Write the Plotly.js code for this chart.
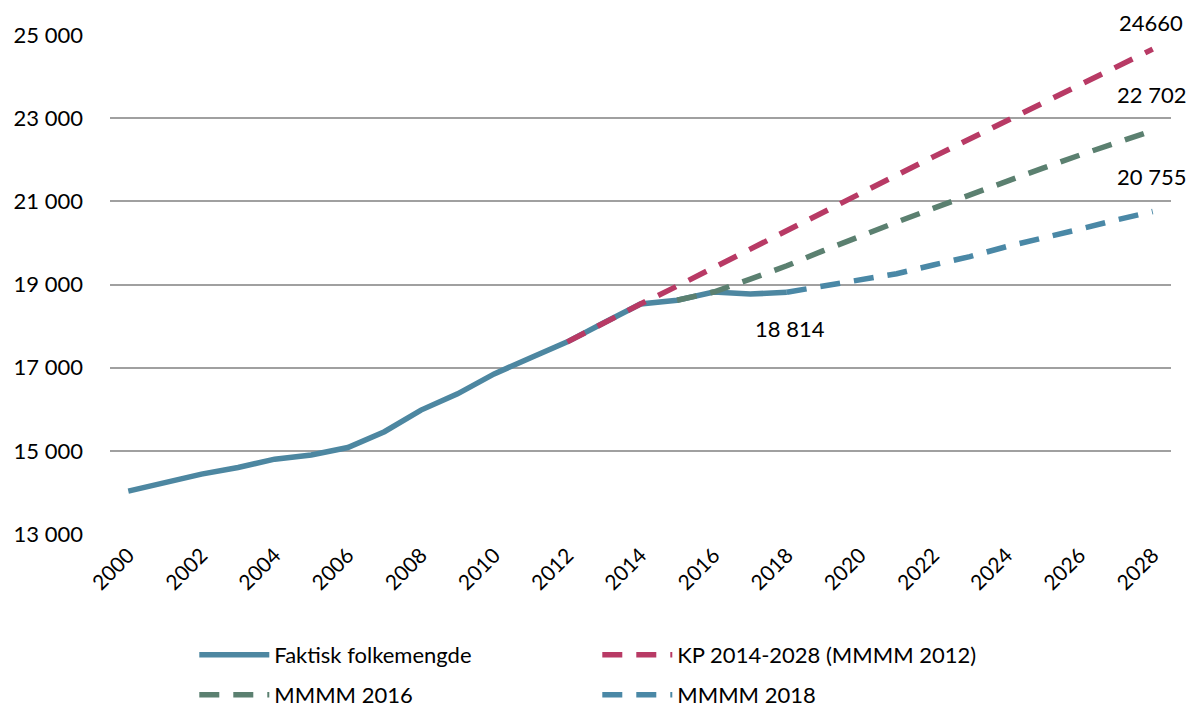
<!DOCTYPE html>
<html>
<head>
<meta charset="utf-8">
<script src="https://cdn.plot.ly/plotly-3.0.1.min.js"></script>
<style>html,body{margin:0;padding:0;background:#fff}#chart{width:1192px;height:711px}</style>
</head>
<body>
<div id="chart"></div>
<script>
const years = ['2000','2001','2002','2003','2004','2005','2006','2007','2008','2009','2010','2011','2012','2013','2014','2015','2016','2017','2018','2019','2020','2021','2022','2023','2024','2025','2026','2027','2028'];
const tickYears = ['2000','2002','2004','2006','2008','2010','2012','2014','2016','2018','2020','2022','2024','2026','2028'];

const faktiskYears = years.slice(0, 19);
const faktisk = [14030, 14230, 14440, 14600, 14800, 14900, 15080, 15460, 15980, 16370, 16850, 17240, 17620, 18080, 18530, 18620, 18820, 18770, 18814];

const kpYears = years.slice(12);
const kp = [17620, 18080, 18530, 18960, 19410, 19850, 20300, 20750, 21190, 21630, 22070, 22500, 22930, 23360, 23800, 24230, 24660];

const m2016Years = years.slice(15);
const m2016 = [18620, 18820, 19130, 19450, 19815, 20170, 20500, 20830, 21160, 21490, 21800, 22110, 22400, 22702];

const m2018Years = years.slice(18);
const m2018 = [18814, 18960, 19100, 19260, 19470, 19670, 19910, 20110, 20330, 20550, 20755];

const labels = [
  {year: '2028', y: 24660, text: '24660', xs: -2, ys: 27},
  {year: '2028', y: 22702, text: '22 702', xs: -1, ys: 36},
  {year: '2028', y: 20755, text: '20 755', xs: -1, ys: 35},
  {year: '2018', y: 18814, text: '18 814', xs: 3, ys: -36}
];

const font = 'Lato, "Open Sans", sans-serif';
const dash = '20px,14px';

const traces = [
  {x: faktiskYears, y: faktisk, name: 'Faktisk folkemengde', type: 'scatter', mode: 'lines',
   line: {color: '#4d87a1', width: 5.5}, legend: 'legend'},
  {x: kpYears, y: kp, name: 'KP 2014-2028 (MMMM 2012)', type: 'scatter', mode: 'lines',
   line: {color: '#b83a65', width: 5.5, dash: dash}, legend: 'legend'},
  {x: m2016Years, y: m2016, name: 'MMMM 2016', type: 'scatter', mode: 'lines',
   line: {color: '#5b8070', width: 5.5, dash: dash}, legend: 'legend2'},
  {x: m2018Years, y: m2018, name: 'MMMM 2018', type: 'scatter', mode: 'lines',
   line: {color: '#4a88a6', width: 5.5, dash: dash}, legend: 'legend2'}
];

const legendCommon = {
  orientation: 'h', xref: 'container', yref: 'container', x: 0.163, xanchor: 'left', yanchor: 'middle',
  entrywidth: 318, entrywidthmode: 'pixels', itemwidth: 70,
  font: {family: font, size: 22, color: '#000'}, bgcolor: 'rgba(0,0,0,0)'
};

const layout = {
  width: 1192, height: 711,
  margin: {l: 110, r: 21, t: 35, b: 177, autoexpand: false},
  paper_bgcolor: '#fff', plot_bgcolor: '#fff',
  separators: ', ',
  font: {family: font, size: 22, color: '#000'},
  showlegend: true,
  xaxis: {
    type: 'category', categoryorder: 'array', categoryarray: years,
    range: [-0.5, years.length - 0.5], autorange: false, automargin: false,
    tickvals: tickYears, ticktext: tickYears, tickangle: -45,
    showgrid: false, showline: false, zeroline: false, ticks: '',
    ticklabelstandoff: 4,
    tickfont: {family: font, size: 21, color: '#000'}
  },
  yaxis: {
    range: [13000, 25000], autorange: false, automargin: false, dtick: 2000, tick0: 13000, tickformat: ',d',
    showgrid: true, gridcolor: '#a0a0a0', gridwidth: 2,
    showline: false, zeroline: false, ticks: '', ticklen: 0,
    ticklabelstandoff: 26,
    tickfont: {family: font, size: 22, color: '#000'}
  },
  legend: Object.assign({}, legendCommon, {y: 1 - 655 / 711}),
  legend2: Object.assign({}, legendCommon, {y: 1 - 695 / 711}),
  annotations: labels.map(l => ({
    x: years.indexOf(l.year), y: l.y, xref: 'x', yref: 'y', text: l.text, showarrow: false,
    xshift: l.xs, yshift: l.ys, font: {family: font, size: 22, color: '#000'}
  }))
};

Plotly.newPlot('chart', traces, layout, {displayModeBar: false, responsive: false});
</script>
</body>
</html>
